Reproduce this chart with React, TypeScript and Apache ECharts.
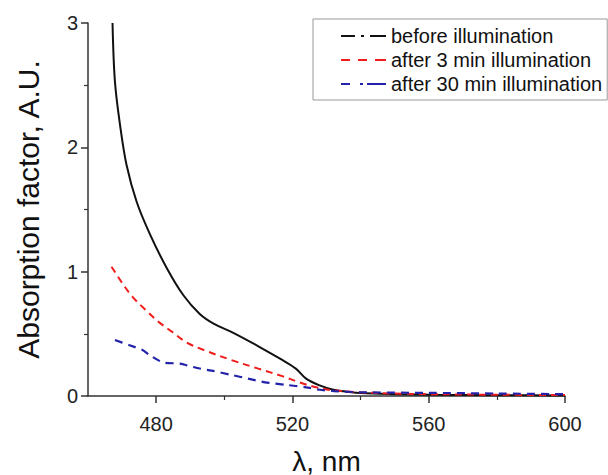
import React, { useEffect, useRef } from "react";
import * as echarts from "echarts";

const seriesNames = ["before illumination", "after 3 min illumination", "after 30 min illumination"];

const beforeX = [467.2, 467.9, 469.4, 471.3, 474.3, 478.2, 483.1, 488, 492.8, 497, 502.5, 510, 517, 521, 524, 528, 532, 536, 540, 550, 560, 580, 600];
const beforeY = [3.0, 2.53, 2.18, 1.86, 1.56, 1.3, 1.03, 0.81, 0.66, 0.58, 0.51, 0.4, 0.29, 0.22, 0.14, 0.085, 0.05, 0.035, 0.024, 0.015, 0.01, 0.006, 0.004];

const after3X = [466.9, 470, 473, 477, 481, 484.5, 489, 494, 502, 510, 517, 522, 527, 532, 540, 550, 560, 580, 600];
const after3Y = [1.04, 0.91, 0.8, 0.69, 0.59, 0.52, 0.43, 0.37, 0.29, 0.22, 0.16, 0.11, 0.07, 0.045, 0.03, 0.02, 0.015, 0.01, 0.008];

const after30X = [467.9, 472, 476, 478, 482, 487, 492, 497, 502, 507, 512, 518, 524, 528, 532, 540, 560, 580, 600];
const after30Y = [0.45, 0.41, 0.37, 0.33, 0.27, 0.26, 0.225, 0.2, 0.17, 0.14, 0.11, 0.09, 0.07, 0.05, 0.04, 0.03, 0.025, 0.02, 0.015];

const xMajorTicks = [480, 520, 560, 600];
const xMinorTicks = [500, 540, 580];

const zip = (xs: number[], ys: number[]) => xs.map((x, i) => [x, ys[i]]);

export default function App() {
  const ref = useRef<HTMLDivElement>(null);
  useEffect(() => {
    if (!ref.current) return;
    const chart = echarts.init(ref.current, undefined, { renderer: "svg" });
    const font = "Liberation Sans, Arial, sans-serif";
    const axisColor = "#333";
    chart.setOption({
      animation: false,
      backgroundColor: "#fff",
      grid: { left: 88, right: 43, top: 23, bottom: 79, containLabel: false, outerBoundsMode: "none" },
      legend: {
        orient: "vertical",
        left: 313,
        top: 19,
        padding: [7, 5, 6, 28],
        borderColor: "#999",
        borderWidth: 1,
        itemWidth: 45,
        itemHeight: 2,
        itemGap: 4,
        textStyle: { fontFamily: font, fontSize: 20, color: "#111" },
        data: [
          { name: seriesNames[0], icon: "path://M0,0H14V2H0Z M20,0H23V2H20Z M29,0H45V2H29Z" },
          { name: seriesNames[1], icon: "path://M0,0H9V2H0Z M17,0H26V2H17Z M34,0H45V2H34Z" },
          { name: seriesNames[2], icon: "path://M0,0H9V2H0Z M19,0H22V2H19Z M26,0H45V2H26Z" },
        ],
      },
      xAxis: [
        {
          type: "value",
          min: 460,
          max: 600,
          interval: 20,
          name: "λ, nm",
          nameLocation: "middle",
          nameGap: 51,
          nameTextStyle: { fontFamily: font, fontSize: 28, color: "#111" },
          axisLine: { lineStyle: { color: axisColor, width: 1.5 } },
          axisTick: { customValues: xMajorTicks, length: 7, lineStyle: { color: axisColor, width: 1.5 } },
          axisLabel: { customValues: xMajorTicks, fontFamily: font, fontSize: 20, color: "#222", margin: 18 },
          splitLine: { show: false },
        },
        {
          type: "value",
          min: 460,
          max: 600,
          position: "bottom",
          axisLine: { show: false },
          axisTick: { customValues: xMinorTicks, length: 4, lineStyle: { color: axisColor, width: 1.2 } },
          axisLabel: { show: false },
          splitLine: { show: false },
        },
      ],
      yAxis: {
        type: "value",
        min: 0,
        max: 3,
        interval: 1,
        name: "Absorption factor, A.U.",
        nameLocation: "middle",
        nameGap: 45,
        nameTextStyle: { fontFamily: font, fontSize: 30, color: "#111" },
        axisLine: { show: true, lineStyle: { color: axisColor, width: 1.5 } },
        axisTick: { show: true, length: 7, lineStyle: { color: axisColor, width: 1.5 } },
        minorTick: { show: true, splitNumber: 2, length: 4, lineStyle: { color: axisColor, width: 1.2 } },
        axisLabel: { fontFamily: font, fontSize: 20, color: "#222", margin: 10 },
        splitLine: { show: false },
      },
      series: [
        {
          name: seriesNames[0],
          type: "line",
          data: zip(beforeX, beforeY),
          smooth: 0.35,
          showSymbol: false,
          symbol: "none",
          lineStyle: { color: "#111", width: 2, type: "solid" },
          itemStyle: { color: "#111" },
        },
        {
          name: seriesNames[1],
          type: "line",
          data: zip(after3X, after3Y),
          smooth: 0.35,
          showSymbol: false,
          symbol: "none",
          lineStyle: { color: "#f21b1b", width: 2, type: [7, 5] },
          itemStyle: { color: "#f21b1b" },
        },
        {
          name: seriesNames[2],
          type: "line",
          data: zip(after30X, after30Y),
          smooth: 0.2,
          showSymbol: false,
          symbol: "none",
          lineStyle: { color: "#2222aa", width: 2.2, type: [8, 6] },
          itemStyle: { color: "#2222aa" },
        },
      ],
    });
    return () => chart.dispose();
  }, []);
  return <div ref={ref} style={{ position: "fixed", left: 0, top: 0, width: 608, height: 475 }} />;
}
